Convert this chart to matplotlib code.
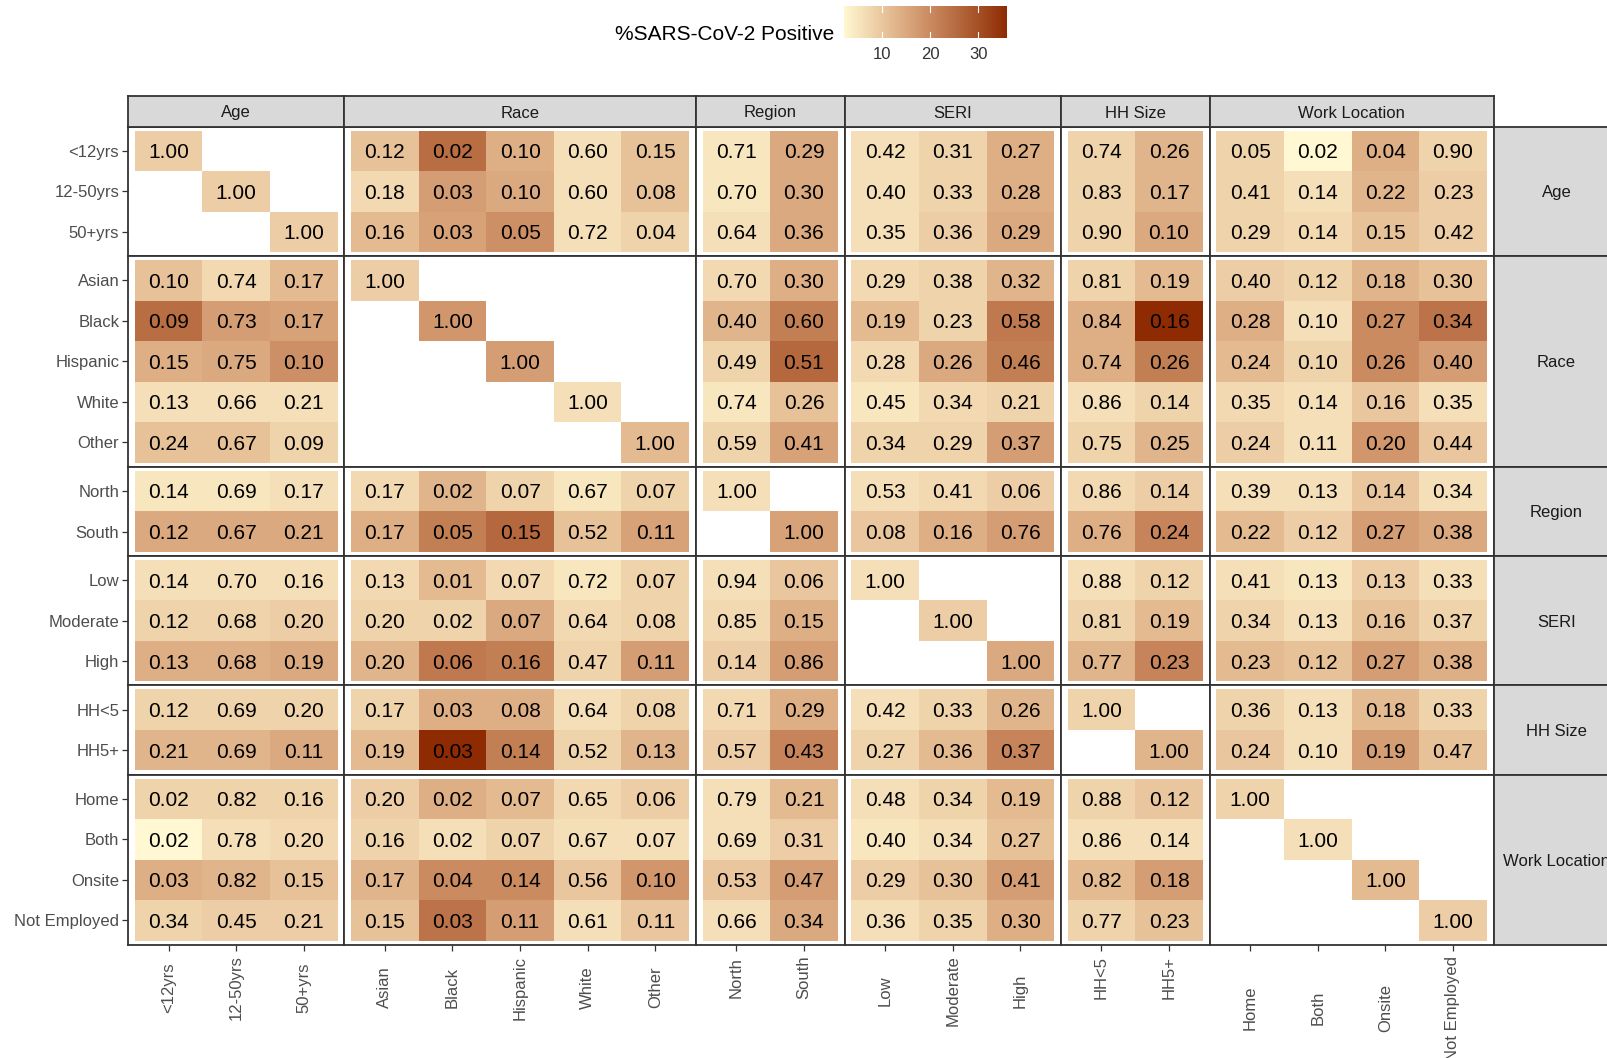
import numpy as np
import matplotlib
import matplotlib.pyplot as plt
from matplotlib.colors import ListedColormap, Normalize

matplotlib.use('Agg')
plt.rcParams['font.family'] = ['Liberation Sans', 'DejaVu Sans']

# --- categorias ---
groups = ["Age", "Race", "Region", "SERI", "HH Size", "Work Location"]
age_levels = ["<12yrs", "12-50yrs", "50+yrs"]
race_levels = ["Asian", "Black", "Hispanic", "White", "Other"]
region_levels = ["North", "South"]
seri_levels = ["Low", "Moderate", "High"]
hh_levels = ["HH<5", "HH5+"]
work_levels = ["Home", "Both", "Onsite", "Not Employed"]

N = None
# proporção da linha que cai em cada categoria da coluna
prop_age = [
    [1.00, N, N, 0.12, 0.02, 0.10, 0.60, 0.15, 0.71, 0.29, 0.42, 0.31, 0.27, 0.74, 0.26, 0.05, 0.02, 0.04, 0.90],
    [N, 1.00, N, 0.18, 0.03, 0.10, 0.60, 0.08, 0.70, 0.30, 0.40, 0.33, 0.28, 0.83, 0.17, 0.41, 0.14, 0.22, 0.23],
    [N, N, 1.00, 0.16, 0.03, 0.05, 0.72, 0.04, 0.64, 0.36, 0.35, 0.36, 0.29, 0.90, 0.10, 0.29, 0.14, 0.15, 0.42],
]
prop_race = [
    [0.10, 0.74, 0.17, 1.00, N, N, N, N, 0.70, 0.30, 0.29, 0.38, 0.32, 0.81, 0.19, 0.40, 0.12, 0.18, 0.30],
    [0.09, 0.73, 0.17, N, 1.00, N, N, N, 0.40, 0.60, 0.19, 0.23, 0.58, 0.84, 0.16, 0.28, 0.10, 0.27, 0.34],
    [0.15, 0.75, 0.10, N, N, 1.00, N, N, 0.49, 0.51, 0.28, 0.26, 0.46, 0.74, 0.26, 0.24, 0.10, 0.26, 0.40],
    [0.13, 0.66, 0.21, N, N, N, 1.00, N, 0.74, 0.26, 0.45, 0.34, 0.21, 0.86, 0.14, 0.35, 0.14, 0.16, 0.35],
    [0.24, 0.67, 0.09, N, N, N, N, 1.00, 0.59, 0.41, 0.34, 0.29, 0.37, 0.75, 0.25, 0.24, 0.11, 0.20, 0.44],
]
prop_region = [
    [0.14, 0.69, 0.17, 0.17, 0.02, 0.07, 0.67, 0.07, 1.00, N, 0.53, 0.41, 0.06, 0.86, 0.14, 0.39, 0.13, 0.14, 0.34],
    [0.12, 0.67, 0.21, 0.17, 0.05, 0.15, 0.52, 0.11, N, 1.00, 0.08, 0.16, 0.76, 0.76, 0.24, 0.22, 0.12, 0.27, 0.38],
]
prop_seri = [
    [0.14, 0.70, 0.16, 0.13, 0.01, 0.07, 0.72, 0.07, 0.94, 0.06, 1.00, N, N, 0.88, 0.12, 0.41, 0.13, 0.13, 0.33],
    [0.12, 0.68, 0.20, 0.20, 0.02, 0.07, 0.64, 0.08, 0.85, 0.15, N, 1.00, N, 0.81, 0.19, 0.34, 0.13, 0.16, 0.37],
    [0.13, 0.68, 0.19, 0.20, 0.06, 0.16, 0.47, 0.11, 0.14, 0.86, N, N, 1.00, 0.77, 0.23, 0.23, 0.12, 0.27, 0.38],
]
prop_hh = [
    [0.12, 0.69, 0.20, 0.17, 0.03, 0.08, 0.64, 0.08, 0.71, 0.29, 0.42, 0.33, 0.26, 1.00, N, 0.36, 0.13, 0.18, 0.33],
    [0.21, 0.69, 0.11, 0.19, 0.03, 0.14, 0.52, 0.13, 0.57, 0.43, 0.27, 0.36, 0.37, N, 1.00, 0.24, 0.10, 0.19, 0.47],
]
prop_work = [
    [0.02, 0.82, 0.16, 0.20, 0.02, 0.07, 0.65, 0.06, 0.79, 0.21, 0.48, 0.34, 0.19, 0.88, 0.12, 1.00, N, N, N],
    [0.02, 0.78, 0.20, 0.16, 0.02, 0.07, 0.67, 0.07, 0.69, 0.31, 0.40, 0.34, 0.27, 0.86, 0.14, N, 1.00, N, N],
    [0.03, 0.82, 0.15, 0.17, 0.04, 0.14, 0.56, 0.10, 0.53, 0.47, 0.29, 0.30, 0.41, 0.82, 0.18, N, N, 1.00, N],
    [0.34, 0.45, 0.21, 0.15, 0.03, 0.11, 0.61, 0.11, 0.66, 0.34, 0.36, 0.35, 0.30, 0.77, 0.23, N, N, N, 1.00],
]

# % positivos em cada cruzamento linha x coluna
pos_age = [
    [9, N, N, 11, 25, 14, 6, 11, 5, 15, 6, 8, 14, 8, 13, 8, 2, 14, 8],
    [N, 9, N, 7, 17, 15, 6, 11, 5, 15, 6, 8, 14, 8, 13, 8, 6, 13, 9],
    [N, N, 9, 12, 16, 19, 6, 8, 6, 15, 6, 9, 15, 8, 15, 8, 7, 11, 9],
]
pos_race = [
    [11, 7, 12, 9, N, N, N, N, 7, 14, 7, 8, 13, 8, 12, 9, 8, 13, 11],
    [25, 17, 16, N, 18, N, N, N, 13, 22, 12, 8, 23, 14, 36, 14, 6, 20, 24],
    [14, 15, 19, N, N, 17, N, N, 8, 26, 7, 15, 22, 14, 22, 12, 8, 20, 17],
    [6, 6, 6, N, N, N, 6, N, 5, 11, 5, 7, 8, 6, 8, 7, 6, 10, 6],
    [11, 11, 8, N, N, N, N, 12, 8, 16, 8, 8, 17, 8, 13, 9, 6, 18, 10],
]
pos_region = [
    [5, 5, 6, 7, 13, 8, 5, 8, 6, N, 6, 7, 9, 7, 9, 6, 6, 10, 6],
    [15, 15, 15, 14, 22, 26, 11, 16, N, 16, 10, 14, 17, 14, 21, 12, 9, 17, 15],
]
pos_seri = [
    [6, 6, 6, 7, 12, 7, 5, 8, 6, 10, 6, N, N, 6, 8, 6, 5, 9, 6],
    [8, 8, 9, 8, 8, 15, 7, 8, 7, 14, N, 9, N, 8, 12, 8, 6, 11, 8],
    [14, 14, 15, 13, 23, 22, 8, 17, 9, 17, N, N, 15, 13, 21, 12, 11, 17, 14],
]
pos_hh = [
    [8, 8, 8, 8, 14, 14, 6, 8, 7, 14, 6, 8, 13, 8, N, 8, 6, 12, 8],
    [13, 13, 15, 12, 36, 22, 8, 13, 9, 21, 8, 12, 21, N, 13, 10, 6, 17, 11],
]
pos_work = [
    [8, 8, 8, 9, 14, 12, 7, 9, 6, 12, 6, 8, 12, 8, 10, 8, N, N, N],
    [2, 6, 7, 8, 6, 8, 6, 6, 6, 9, 5, 6, 11, 6, 6, N, 6, N, N],
    [14, 13, 11, 13, 20, 20, 10, 18, 10, 17, 9, 11, 17, 12, 17, N, N, 12, N],
    [8, 9, 9, 11, 24, 17, 6, 10, 6, 15, 6, 8, 14, 8, 11, N, N, N, 9],
]

levels = dict(zip(groups, [age_levels, race_levels, region_levels, seri_levels, hh_levels, work_levels]))
props = dict(zip(groups, [prop_age, prop_race, prop_region, prop_seri, prop_hh, prop_work]))
poss = dict(zip(groups, [pos_age, pos_race, pos_region, pos_seri, pos_hh, pos_work]))


# --- escala de cor: gradiente interpolado em Lab (como no ggplot) ---
_M = np.array([[0.4124, 0.3576, 0.1805], [0.2126, 0.7152, 0.0722], [0.0193, 0.1192, 0.9505]])
_WP = np.array([0.95047, 1.0, 1.08883])


def hex_to_lab(c):
    rgb = np.array(matplotlib.colors.to_rgb(c))
    lin = np.where(rgb <= 0.04045, rgb / 12.92, ((rgb + 0.055) / 1.055) ** 2.4)
    xyz = _M @ lin / _WP
    f = np.where(xyz > 0.008856, np.cbrt(xyz), 7.787 * xyz + 16 / 116)
    return np.array([116 * f[1] - 16, 500 * (f[0] - f[1]), 200 * (f[1] - f[2])])


def lab_to_rgb(lab):
    fy = (lab[0] + 16) / 116
    f = np.array([fy + lab[1] / 500, fy, fy - lab[2] / 200])
    xyz = np.where(f ** 3 > 0.008856, f ** 3, (f - 16 / 116) / 7.787) * _WP
    lin = np.clip(np.linalg.inv(_M) @ xyz, 0, None)
    rgb = np.where(lin <= 0.0031308, 12.92 * lin, 1.055 * lin ** (1 / 2.4) - 0.055)
    return np.clip(rgb, 0, 1)


lo, hi = hex_to_lab("#FFF8D2"), hex_to_lab("#8E2B02")
cmap = ListedColormap([lab_to_rgb(lo + t * (hi - lo)) for t in np.linspace(0, 1, 256)])

all_pos = np.concatenate([np.array(poss[g], dtype=float).ravel() for g in groups])
vmin, vmax = np.nanmin(all_pos), np.nanmax(all_pos)
norm = Normalize(vmin, vmax)

# --- geometria (pixels) ---
W, H, DPI = 1608, 1058, 100
cw, rh = 67.6, 40.5          # largura / altura de uma célula
pad = 0.1                    # folga dentro de cada painel (em células)
x0, y0 = 128, 126.5          # canto superior esquerdo da grade de painéis
strip_h, strip_w = 30, 126
border = '#333333'

fig = plt.figure(figsize=(W / DPI, H / DPI), dpi=DPI)


def add_px_axes(left, top, w, h):
    return fig.add_axes([left / W, 1 - (top + h) / H, w / W, h / H])


sizes = [len(levels[g]) for g in groups]
col_left = np.concatenate([[x0], x0 + np.cumsum([(n + 2 * pad) * cw for n in sizes])])
row_top = np.concatenate([[y0], y0 + np.cumsum([(n + 2 * pad) * rh for n in sizes])])
offsets = np.concatenate([[0], np.cumsum(sizes)])

axes = []
for i, gr in enumerate(groups):
    row_axes = []
    P = np.array(props[gr], dtype=float)
    C = np.array(poss[gr], dtype=float)
    for j, gc in enumerate(groups):
        ni, nj = sizes[i], sizes[j]
        ax = add_px_axes(col_left[j], row_top[i], (nj + 2 * pad) * cw, (ni + 2 * pad) * rh)
        p = P[:, offsets[j]:offsets[j] + nj]
        c = np.ma.masked_invalid(C[:, offsets[j]:offsets[j] + nj])
        ax.pcolormesh(np.arange(nj + 1) - 0.5, np.arange(ni + 1) - 0.5, c, cmap=cmap, norm=norm)
        for r in range(ni):
            for k in range(nj):
                if not np.isnan(p[r, k]):
                    ax.text(k, r, f"{p[r, k]:.2f}", ha='center', va='center_baseline',
                            fontsize=15, color='black')
        ax.set_xlim(-0.5 - pad, nj - 0.5 + pad)
        ax.set_ylim(ni - 0.5 + pad, -0.5 - pad)
        for s in ax.spines.values():
            s.set_color(border)
            s.set_linewidth(1.3)
        ax.set_xticks(range(nj))
        ax.set_yticks(range(ni))
        ax.set_xticklabels([])
        ax.tick_params(axis='x', length=4.3 if i == len(groups) - 1 else 0, width=0.9, color=border)
        if j == 0:
            ax.set_yticklabels(levels[gr], fontsize=12, color='#4D4D4D', va='center_baseline')
            ax.tick_params(axis='y', length=4.3, width=0.9, color=border, pad=2)
        else:
            ax.set_yticklabels([])
            ax.tick_params(axis='y', length=0)
        row_axes.append(ax)
    axes.append(row_axes)

# faixas superiores
for j, g in enumerate(groups):
    sax = add_px_axes(col_left[j], y0 - strip_h, (sizes[j] + 2 * pad) * cw, strip_h)
    sax.set_facecolor('#D9D9D9')
    sax.set_xticks([]); sax.set_yticks([])
    for s in sax.spines.values():
        s.set_color(border); s.set_linewidth(1.3)
    sax.text(0.5, 0.5, g, ha='center', va='center_baseline', fontsize=12, color='#1A1A1A',
             transform=sax.transAxes)

# faixas à direita (a última sai da figura)
for i, g in enumerate(groups):
    sax = add_px_axes(col_left[-1], row_top[i], strip_w, (sizes[i] + 2 * pad) * rh)
    sax.set_facecolor('#D9D9D9')
    sax.set_xticks([]); sax.set_yticks([])
    for s in sax.spines.values():
        s.set_color(border); s.set_linewidth(1.3)
    sax.text(0.5, 0.5, g, ha='center', va='center_baseline', fontsize=12, color='#1A1A1A',
             transform=sax.transAxes)

# rótulos do eixo x: verticais, centrados no rótulo mais longo de cada painel
bottom = axes[-1]
anns = []
for j, g in enumerate(groups):
    ax = bottom[j]
    anns.append([ax.annotate(lab, xy=(k, 0), xycoords=ax.get_xaxis_transform(),
                             xytext=(0, 0), textcoords='offset points', rotation=90,
                             ha='center', va='center', fontsize=12, color='#4D4D4D')
                 for k, lab in enumerate(levels[g])])
fig.canvas.draw()
renderer = fig.canvas.get_renderer()
for group_anns in anns:
    longest = max(a.get_window_extent(renderer).height for a in group_anns)
    off = (11 + longest / 2) * 72 / DPI
    for a in group_anns:
        a.xyann = (0, -off)

# legenda
fig.text(834 / W, 1 - 35 / H, '%SARS-CoV-2 Positive', ha='right', va='center', fontsize=15, color='black')
cax = add_px_axes(844, 6, 163, 32)
cax.imshow(np.linspace(vmin, vmax, 256)[None, :], aspect='auto', cmap=cmap, norm=norm,
           extent=(vmin, vmax, 0, 1))
cax.set_xlim(vmin, vmax); cax.set_ylim(0, 1)
cax.set_axis_off()
for t in [10, 20, 30]:
    cax.plot([t, t], [0, 0.18], color='white', lw=0.8)
    cax.plot([t, t], [0.82, 1], color='white', lw=0.8)
    cax.text(t, -0.53, str(t), ha='center', va='center', fontsize=12, color='#333333', clip_on=False)

fig.savefig('out.png', dpi=DPI)
